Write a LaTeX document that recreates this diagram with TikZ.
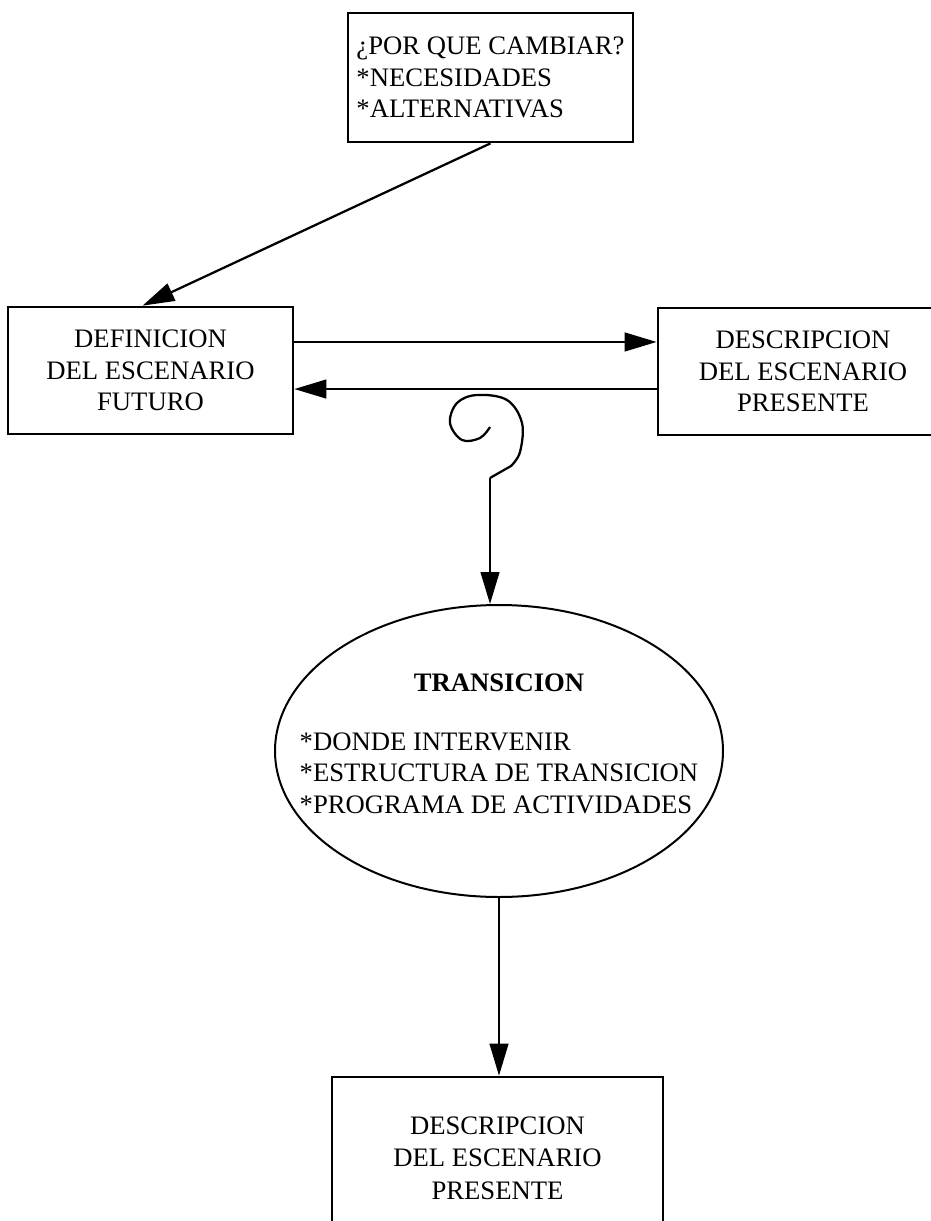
\documentclass[tikz,border=0pt]{standalone}
\usepackage{fontspec}
\setmainfont{Liberation Serif}
\usetikzlibrary{arrows.meta,shapes.geometric}

\begin{document}
\begin{tikzpicture}[x=0.75pt,y=-0.75pt,
  box/.style={draw,line width=2pt,align=center,inner sep=0pt,font=\fontsize{20}{23.5}\selectfont},
  arr/.style={line width=1.7pt,-{Triangle[length=24pt,width=14pt]}}]
\useasboundingbox (0,0) rectangle (931,1221);
\clip (0,0) rectangle (931,1221);

\node[box,align=left,minimum width=213.75pt,minimum height=96.75pt] (why) at (490.5,77.5)
  {¿POR QUE CAMBIAR?\\{*}NECESIDADES\\{*}ALTERNATIVAS};
\node[box,minimum width=213.75pt,minimum height=95.25pt] (fut) at (150.5,370.5)
  {DEFINICION\\DEL ESCENARIO\\FUTURO};
\node[box,minimum width=217.5pt,minimum height=95.25pt] (pres) at (803,371.5)
  {DESCRIPCION\\DEL ESCENARIO\\PRESENTE};
\node[draw,ellipse,line width=1.5pt,minimum width=336pt,minimum height=219pt,inner sep=0pt] (trans) at (499,751) {};
\node[font=\fontsize{20}{23.5}\selectfont,inner sep=0pt] (trantxt) at ([yshift=3.75pt]trans.center)
  {\begin{tabular}{@{}l@{}}
   \multicolumn{1}{@{}c@{}}{\textbf{TRANSICION}}\\[21pt]
   {*}DONDE INTERVENIR\\
   {*}ESTRUCTURA DE TRANSICION\\
   {*}PROGRAMA DE ACTIVIDADES
   \end{tabular}};
\node[box,minimum width=248.25pt,minimum height=121.5pt,font=\fontsize{20}{24.5}\selectfont] (desc) at (497.5,1158)
  {DESCRIPCION\\DEL ESCENARIO\\PRESENTE};

\draw[arr] (why.south) -- ([xshift=-6pt]fut.north);

\coordinate (ra) at ([yshift=21.4pt]fut.east);
\coordinate (rb) at ([yshift=-13.9pt]fut.east);
\draw[arr] (ra) -- (ra -| pres.west);
\draw[arr] (rb -| pres.west) -- (rb);

% signo de interrogacion
\coordinate (qend) at (490,478);
\draw[line width=1.7pt] plot[smooth,tension=0.6] coordinates {(490,427) (480,438) (462,440) (450,423) (457,403) (477,395) (507,400) (522,423) (520,452) (511,466)} -- (qend);
\draw[arr] (qend) -- (qend |- trans.north);

\draw[arr] (trans.south) -- (trans.south |- desc.north);
\end{tikzpicture}
\end{document}
